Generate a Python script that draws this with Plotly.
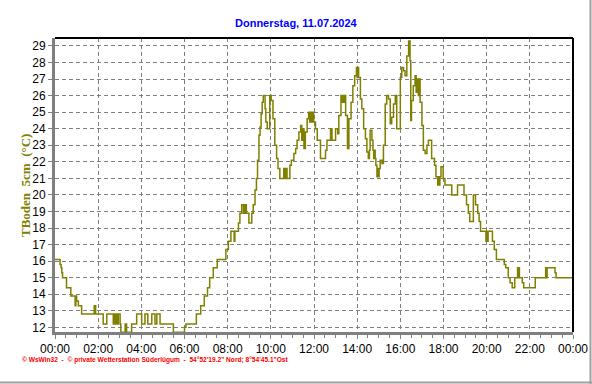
import plotly.graph_objects as go

# ---- data (minutes after midnight, soil temperature 5 cm in °C) ----
minutes = [
    0, 14, 17, 19, 21, 32, 44, 56, 58, 60, 65, 74, 109, 113, 134, 144, 162, 165, 167, 170,
    173, 176, 181, 183, 195, 199, 213, 227, 241, 250, 258, 269, 278, 283, 292, 329, 360, 364,
    393, 405, 415, 424, 430, 440, 451, 475, 482, 489, 498, 500, 510, 514, 519, 524, 526, 529,
    531, 532, 539, 547, 551, 556, 560, 563, 567, 570, 573, 576, 579, 584, 586, 590, 597, 601,
    606, 611, 616, 620, 625, 636, 638, 640, 642, 644, 645, 653, 657, 664, 669, 673, 678, 683,
    686, 688, 692, 696, 701, 705, 708, 710, 713, 715, 719, 724, 729, 738, 752, 756, 766, 770,
    780, 786, 789, 795, 798, 800, 803, 805, 808, 813, 817, 823, 828, 833, 838, 840, 842, 844,
    849, 853, 858, 863, 867, 871, 874, 876, 881, 884, 886, 888, 890, 892, 895, 897, 899, 901,
    904, 909, 913, 918, 922, 927, 932, 936, 941, 946, 950, 960, 964, 969, 973, 978, 983, 987,
    989, 991, 996, 1001, 1004, 1007, 1010, 1012, 1015, 1020, 1024, 1029, 1034, 1038, 1047,
    1055, 1059, 1064, 1066, 1068, 1070, 1073, 1079, 1084, 1103, 1119, 1137, 1144, 1149, 1153,
    1163, 1169, 1175, 1179, 1183, 1198, 1200, 1202, 1204, 1216, 1221, 1227, 1249, 1253, 1260,
    1265, 1271, 1278, 1286, 1288, 1290, 1291, 1299, 1303, 1335, 1364, 1366, 1368, 1390, 1393,
    1440,
]
temperature = [
    16.1, 15.8, 15.6, 15.3, 15.0, 14.4, 13.9, 13.3, 13.9, 13.6, 13.3, 12.8, 13.3, 12.8, 12.2, 12.8, 12.2, 12.8, 12.2, 12.8,
    12.2, 12.8, 12.2, 11.7, 12.2, 11.7, 12.2, 12.8, 12.2, 12.8, 12.2, 12.8, 12.2, 12.8, 12.2, 11.7, 12.0, 12.2,
    12.8, 13.3, 13.9, 14.4, 15.0, 15.6, 16.1, 16.7, 17.2, 17.8, 17.2, 17.8, 18.3, 18.9, 19.4, 18.9, 19.4, 18.9,
    19.4, 18.9, 18.3, 18.9, 19.4, 20.3, 21.0, 22.1, 23.6, 24.1, 24.9, 25.6, 26.0, 25.2, 24.4, 24.0, 26.0, 25.7,
    24.6, 23.0, 22.2, 21.6, 21.0, 21.6, 21.0, 21.6, 21.0, 21.6, 21.0, 21.8, 22.1, 22.5, 22.8, 23.3, 23.8, 24.2,
    23.3, 24.0, 22.8, 23.8, 24.6, 25.0, 24.4, 25.0, 24.4, 25.0, 24.4, 24.0, 23.3, 22.2, 22.7, 23.3, 24.0, 23.3,
    24.0, 23.7, 24.8, 26.0, 25.6, 26.0, 25.6, 26.0, 24.8, 22.8, 24.6, 25.6, 26.6, 27.2, 27.7, 27.1, 27.7, 27.1,
    25.8, 25.2, 24.0, 23.4, 22.6, 22.2, 22.7, 23.9, 23.3, 22.7, 22.2, 22.7, 22.2, 21.8, 21.1, 21.6, 21.1, 21.6,
    22.1, 21.9, 23.0, 25.5, 26.0, 25.8, 24.3, 24.7, 25.5, 26.0, 24.0, 27.1, 27.7, 27.5, 27.2, 28.4, 29.3, 28.1,
    24.5, 25.7, 26.6, 27.2, 26.2, 27.0, 26.0, 27.0, 25.6, 24.2, 22.7, 22.5, 23.0, 23.3, 22.2,
    21.8, 21.1, 20.6, 21.1, 20.6, 21.1, 21.7, 21.0, 20.6, 20.0, 20.6, 20.0, 19.4, 18.9, 18.4,
    20.0, 19.4, 18.9, 18.4, 17.8, 17.2, 17.8, 17.2, 17.8, 17.2, 16.7, 16.1, 15.8, 15.6, 15.0,
    14.7, 14.4, 15.0, 15.6, 15.0, 15.6, 15.0, 14.7, 14.4, 15.0, 15.6, 15.0, 15.6, 15.3, 15.0,
    15.0,
]
tick_minutes = list(range(0, 1441, 120))
tick_labels = ["00:00", "02:00", "04:00", "06:00", "08:00", "10:00", "12:00",
               "14:00", "16:00", "18:00", "20:00", "22:00", "00:00"]
y_ticks = list(range(12, 30))

title_text = "Donnerstag, 11.07.2024"
y_title = "TBoden  5cm  (°C)"
footer = "© WsWin32  -  © private Wetterstation Süderlügum  -  54°52'19.2\" Nord; 8°54'45.1\"Ost"

# ---- figure ----
W, H = 592, 384
L, R, T, B = 55, 573, 38, 332

def px_x(px):
    return (px - L) / (R - L)

def px_y(py):
    return (B - py) / (B - T)

fig = go.Figure()
fig.add_trace(go.Scatter(
    x=minutes, y=temperature, mode="lines",
    line=dict(color="#808000", width=1.5, shape="hv"),
    hoverinfo="skip", showlegend=False,
))

grid = dict(showgrid=True, gridcolor="#808080", gridwidth=1, griddash="4px,3px")
fig.update_layout(
    width=W, height=H,
    margin=dict(l=L, r=W - R, t=T, b=H - B, autoexpand=False),
    paper_bgcolor="white", plot_bgcolor="white",
    font=dict(family="Liberation Sans, Arial, sans-serif", size=12, color="black"),
    xaxis=dict(
        range=[0, 1440], tickmode="array", tickvals=tick_minutes, ticktext=tick_labels,
        ticks="outside", ticklen=4, tickwidth=1, tickcolor="#808080",
        showline=True, linecolor="#808080", linewidth=3, zeroline=False, automargin=False,
        minor=dict(tickvals=list(range(0, 1441, 30)), ticks="outside", ticklen=3,
                   tickcolor="#808080", showgrid=False),
        tickfont=dict(size=12), **grid,
    ),
    yaxis=dict(
        range=[11.72, 29.48], tickmode="array", tickvals=y_ticks,
        ticks="outside", ticklen=4, tickwidth=1, tickcolor="#808080",
        showline=True, linecolor="#808080", linewidth=3, zeroline=False, automargin=False,
        tickfont=dict(size=12), **grid,
    ),
    shapes=[
        dict(type="line", xref="paper", yref="paper", x0=0, x1=1, y0=1, y1=1,
             line=dict(color="black", width=2)),
        dict(type="line", xref="paper", yref="paper", x0=1, x1=1, y0=0, y1=1,
             line=dict(color="black", width=2)),
        dict(type="line", xref="paper", yref="paper", x0=px_x(590.5), x1=px_x(590.5),
             y0=px_y(0), y1=px_y(384), line=dict(color="#a0a0a0", width=2)),
        dict(type="line", xref="paper", yref="paper", x0=px_x(0), x1=px_x(592),
             y0=px_y(382.5), y1=px_y(382.5), line=dict(color="#a0a0a0", width=2)),
    ],
    annotations=[
        dict(text="<b>" + title_text + "</b>", xref="paper", yref="paper",
             x=px_x(296), y=px_y(23), showarrow=False, xanchor="center", yanchor="middle",
             font=dict(family="Liberation Sans, Arial, sans-serif", size=11, color="#0000ff")),
        dict(text="<b>" + y_title + "</b>", xref="paper", yref="paper",
             x=px_x(25), y=px_y(186), showarrow=False, textangle=-90,
             xanchor="center", yanchor="middle",
             font=dict(family="Liberation Serif, Times New Roman, serif", size=13, color="#808000")),
        dict(text="<b>" + footer + "</b>", xref="paper", yref="paper",
             x=px_x(20), y=px_y(360), showarrow=False, xanchor="left", yanchor="middle",
             font=dict(family="Liberation Sans, Arial, sans-serif", size=6.6, color="#ff0000")),
    ],
)

fig.write_html("out.html")
